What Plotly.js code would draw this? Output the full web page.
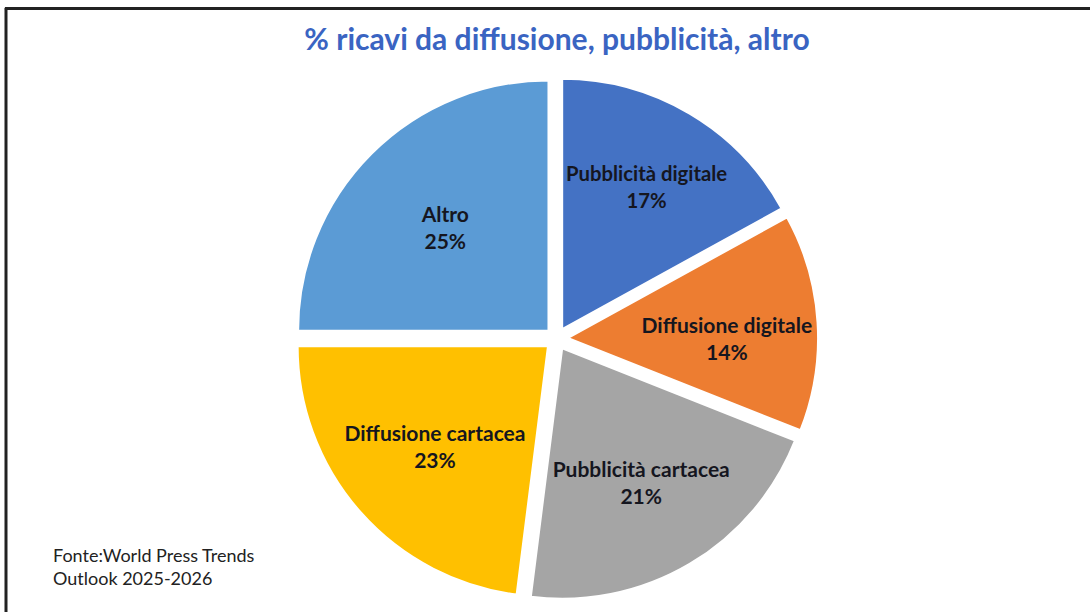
<!DOCTYPE html>
<html>
<head>
<meta charset="utf-8">
<script src="https://cdn.plot.ly/plotly-3.0.1.min.js"></script>
<style>
html,body{margin:0;padding:0;background:#fff;}
#chart{width:1090px;height:612px;}
</style>
</head>
<body>
<div id="chart"></div>
<script>
const categories = ["Pubblicità digitale", "Diffusione digitale", "Pubblicità cartacea", "Diffusione cartacea", "Altro"];
const shares = [17, 14, 21, 23, 25];
const sliceColors = ["#4472C4", "#ED7D31", "#A5A5A5", "#FFC000", "#5B9BD5"];
const titleText = "% ricavi da diffusione, pubblicità, altro";
const sourceText = "Fonte:World Press Trends<br>Outlook 2025-2026";

const trace = {
  type: "pie",
  labels: categories,
  values: shares,
  sort: false,
  direction: "clockwise",
  rotation: 0,
  pull: 0.045,
  marker: {colors: sliceColors, line: {color: "#ffffff", width: 2}},
  texttemplate: "<b>%{label}</b><br><b>%{percent:.0%}</b>",
  textposition: "inside",
  insidetextorientation: "horizontal",
  textfont: {family: "Lato, Open Sans, sans-serif", size: 21, color: "#15161f"},
  hoverinfo: "none",
  showlegend: false,
  domain: {x: [0.270, 0.751], y: [0.019, 0.874]}
};

const layout = {
  width: 1090,
  height: 612,
  margin: {l: 0, r: 0, t: 0, b: 0},
  paper_bgcolor: "#ffffff",
  plot_bgcolor: "#ffffff",
  showlegend: false,
  title: {
    text: "<b>" + titleText + "</b>",
    x: 0.511, xanchor: "center",
    y: 0.935, yanchor: "middle",
    font: {family: "Lato, Open Sans, sans-serif", size: 30, color: "#3A64C2"}
  },
  annotations: [{
    text: sourceText,
    xref: "paper", yref: "paper",
    x: 0.047, y: 0.035,
    xanchor: "left", yanchor: "bottom",
    align: "left",
    showarrow: false,
    font: {family: "Lato, Open Sans, sans-serif", size: 18, color: "#222222"}
  }],
  shapes: [
    {type: "line", xref: "paper", yref: "paper", x0: 0.0045, x1: 1, y0: 0.986, y1: 0.986, line: {color: "#222222", width: 3}},
    {type: "line", xref: "paper", yref: "paper", x0: 0.0055, x1: 0.0055, y0: 0, y1: 0.987, line: {color: "#222222", width: 3}}
  ]
};

Plotly.newPlot("chart", [trace], layout, {staticPlot: true, displayModeBar: false});
</script>
</body>
</html>
